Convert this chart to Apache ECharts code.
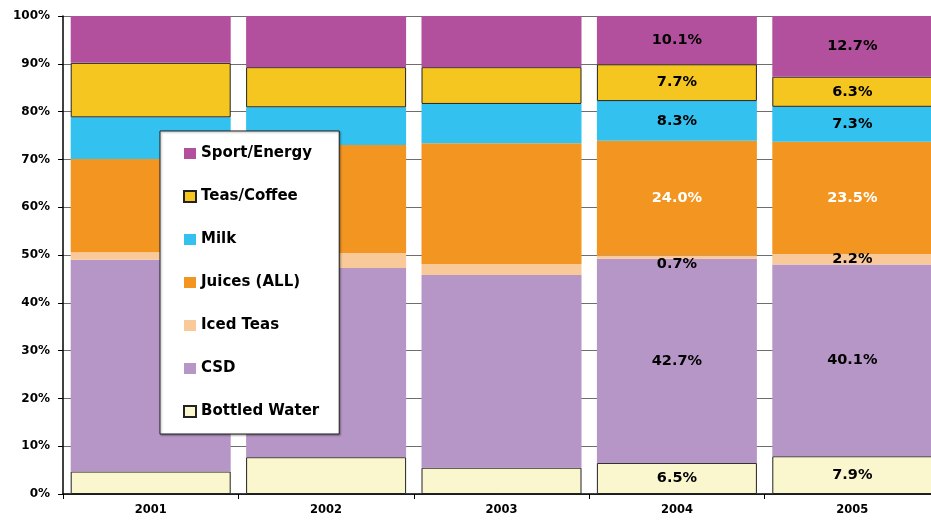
<!DOCTYPE html>
<html>
<head>
<meta charset="utf-8">
<script src="https://cdn.jsdelivr.net/npm/echarts@6/dist/echarts.min.js"></script>
<style>
html,body{margin:0;padding:0;background:#fff;}
#chart{width:931px;height:521px;}
</style>
</head>
<body>
<div id="chart"></div>
<script>
var years = ['2001', '2002', '2003', '2004', '2005'];
var bottledWater = [4.7, 7.7, 5.5, 6.5, 7.9];
var csd = [44.3, 39.6, 40.3, 42.7, 40.1];
var icedTeas = [1.6, 3.1, 2.3, 0.7, 2.2];
var juices = [19.5, 22.6, 25.3, 24.0, 23.5];
var milk = [8.7, 7.9, 8.2, 8.3, 7.3];
var teasCoffee = [11.4, 8.4, 7.7, 7.7, 6.3];
var sportEnergy = [9.8, 10.7, 10.7, 10.1, 12.7];
var labelledYears = ['2004', '2005'];
var yTicks = [0, 10, 20, 30, 40, 50, 60, 70, 80, 90, 100];

var FONT = 'DejaVu Sans';

var seriesDefs = [
  {name: 'Bottled Water', data: bottledWater, color: '#FAF6CD', border: true, labelColor: '#000'},
  {name: 'CSD', data: csd, color: '#B696C6', border: false, labelColor: '#000'},
  {name: 'Iced Teas', data: icedTeas, color: '#F9C999', border: false, labelColor: '#000'},
  {name: 'Juices (ALL)', data: juices, color: '#F39621', border: false, labelColor: '#fff'},
  {name: 'Milk', data: milk, color: '#33C2EF', border: false, labelColor: '#000'},
  {name: 'Teas/Coffee', data: teasCoffee, color: '#F5C620', border: true, labelColor: '#000'},
  {name: 'Sport/Energy', data: sportEnergy, color: '#B3509E', border: false, labelColor: '#000'}
];

var series = seriesDefs.map(function (d) {
  return {
    name: d.name,
    type: 'bar',
    stack: 'total',
    barWidth: 160,
    itemStyle: {
      color: d.color,
      borderColor: d.border ? '#222' : d.color,
      borderWidth: d.border ? 1 : 0
    },
    label: {
      show: false,
      position: 'inside',
      color: d.labelColor,
      fontFamily: FONT,
      fontWeight: 'bold',
      fontSize: 14.5,
      formatter: function (p) { return p.value.toFixed(1) + '%'; }
    },
    emphasis: {disabled: true},
    data: d.data.map(function (v, i) {
      var show = labelledYears.indexOf(years[i]) >= 0;
      var item = {value: v, label: {show: show}};
      if (show && v < 1) item.label.offset = [0, 7];
      return item;
    })
  };
});

var chart = echarts.init(document.getElementById('chart'), null, {renderer: 'canvas'});
chart.setOption({
  animation: false,
  backgroundColor: '#fff',
  grid: {left: 63, top: 16, right: -9, bottom: 27, containLabel: false, outerBoundsMode: 'none'},
  legend: {
    orient: 'vertical',
    left: 160,
    top: 131,
    padding: [15, 20, 15, 23],
    itemGap: 28,
    itemWidth: 12,
    itemHeight: 11,
    icon: 'rect',
    backgroundColor: '#fff',
    borderColor: '#222',
    borderWidth: 1,
    shadowColor: 'rgba(0,0,0,0.35)',
    shadowBlur: 2,
    shadowOffsetX: 1,
    shadowOffsetY: 1,
    selectedMode: false,
    textStyle: {fontFamily: FONT, fontWeight: 'bold', fontSize: 15, color: '#000'},
    data: ['Sport/Energy', 'Teas/Coffee', 'Milk', 'Juices (ALL)', 'Iced Teas', 'CSD', 'Bottled Water']
  },
  xAxis: {
    type: 'category',
    data: years,
    axisLine: {lineStyle: {color: '#000', width: 1.5}},
    axisTick: {show: true, length: 5, lineStyle: {color: '#000'}},
    axisLabel: {fontFamily: FONT, fontWeight: 'bold', fontSize: 11.5, color: '#000', margin: 10}
  },
  yAxis: {
    type: 'value',
    min: yTicks[0],
    max: yTicks[yTicks.length - 1],
    interval: 10,
    axisLine: {show: true, lineStyle: {color: '#000', width: 1.5}},
    axisTick: {show: true, length: 5, lineStyle: {color: '#000'}},
    axisLabel: {fontFamily: FONT, fontWeight: 'bold', fontSize: 12, color: '#000', margin: 13,
      formatter: '{value}%'},
    splitLine: {show: true, lineStyle: {color: '#6e6e6e', width: 1}}
  },
  series: series
});
</script>
</body>
</html>
